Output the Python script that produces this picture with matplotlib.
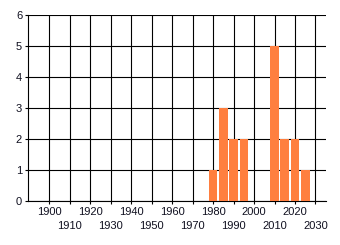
import matplotlib
matplotlib.use("Agg")
import matplotlib.pyplot as plt
from matplotlib.ticker import FixedLocator

# --- DATOS ---
years = [1980, 1985, 1990, 1995, 2010, 2015, 2020, 2025]
counts = [1, 3, 2, 2, 5, 2, 2, 1]
even_decades = [1900, 1920, 1940, 1960, 1980, 2000, 2020]
odd_decades = [1910, 1930, 1950, 1970, 1990, 2010, 2030]
y_ticks = [0, 1, 2, 3, 4, 5, 6]

plt.rcParams['font.family'] = ['Liberation Sans', 'DejaVu Sans']
txt = '#101020'
fs = 8

fig = plt.figure(figsize=(3.4, 2.45), dpi=100)
fig.patch.set_facecolor('white')
ax = fig.add_axes([28 / 340, 1 - 201 / 245, (325.7 - 28) / 340, (201 - 15) / 245])

ax.bar(years, counts, width=4.2, color='#ff7f3f', zorder=3)

ax.set_xlim(1889.5, 2035)
ax.set_ylim(0, 6)

# ticks escalonados: decadas pares arriba, impares abajo
ax.xaxis.set_major_locator(FixedLocator(even_decades))
ax.xaxis.set_minor_locator(FixedLocator(odd_decades))
ax.set_xticklabels([str(d) for d in even_decades])
ax.set_xticklabels([str(d) for d in odd_decades], minor=True)
ax.tick_params(axis='x', which='major', length=2.2, width=0.8, pad=1.8,
               labelsize=fs, labelcolor=txt, color='black')
ax.tick_params(axis='x', which='minor', length=2.2, width=0.8, pad=12.5,
               labelsize=fs, labelcolor=txt, color='black')

ax.set_yticks(y_ticks)
ax.tick_params(axis='y', length=2.2, width=0.8, pad=2.0, labelsize=fs,
               labelcolor=txt, color='black')

ax.grid(True, which='both', axis='x', color='black', linewidth=0.8, zorder=1)
ax.grid(True, which='major', axis='y', color='black', linewidth=0.8, zorder=1)
ax.set_axisbelow(True)

ax.spines['top'].set_visible(False)
ax.spines['right'].set_visible(False)
ax.spines['left'].set_linewidth(0.8)
ax.spines['bottom'].set_linewidth(0.8)

fig.savefig('out.png', dpi=100)
